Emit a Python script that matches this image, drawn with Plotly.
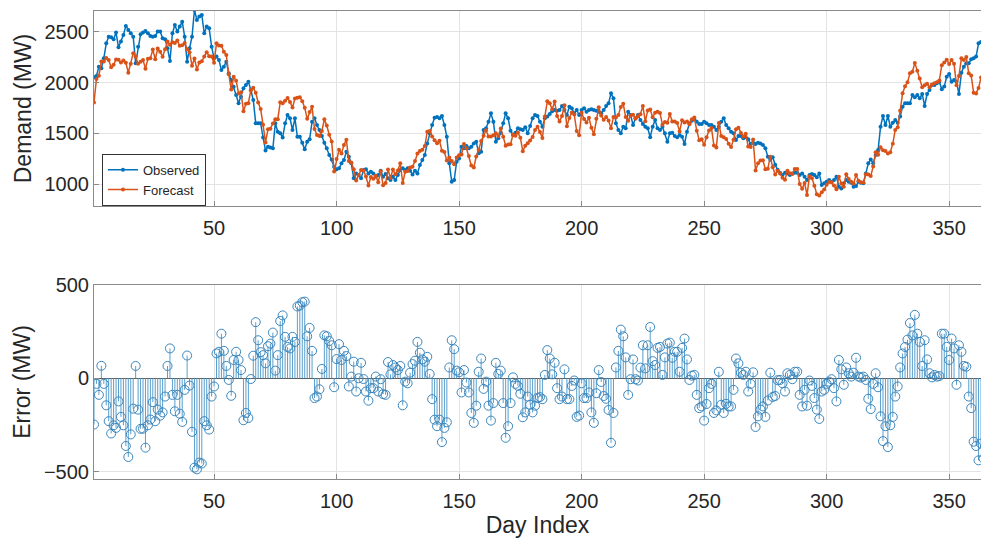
import plotly.graph_objects as go

days = list(range(1, 366))

observed = [
    2053, 2066, 2158, 2142, 2240, 2388, 2454, 2448, 2428, 2494,
    2349, 2405, 2471, 2560, 2520, 2487, 2454, 2191, 2355, 2477,
    2494, 2510, 2487, 2461, 2454, 2461, 2504, 2504, 2438, 2428,
    2339, 2214, 2487, 2569, 2504, 2553, 2602, 2454, 2207, 2339,
    2454, 2717, 2619, 2652, 2668, 2487, 2553, 2536, 2355, 2240,
    2257, 2224, 2125, 2158, 2207, 2092, 2026, 1960, 1878, 1796,
    1862, 1944, 1977, 2010, 1928, 1829, 1600, 1600, 1600, 1460,
    1330, 1368, 1360, 1352, 1599, 1516, 1500, 1460, 1599, 1681,
    1648, 1533, 1648, 1467, 1467, 1408, 1342, 1418, 1441, 1615,
    1648, 1582, 1533, 1474, 1408, 1352, 1286, 1243, 1171, 1145,
    1155, 1204, 1237, 1319, 1270, 1204, 1056, 1105, 1089, 1056,
    1138, 1145, 1105, 1122, 1105, 1072, 1089, 1132, 1072, 1099,
    1056, 1039, 1072, 1039, 1089, 1138, 1155, 1138, 1155, 1132,
    1095, 1132, 1105, 1188, 1237, 1286, 1401, 1500, 1582, 1655,
    1660, 1648, 1671, 1582, 1467, 1204, 1023, 1039, 1220, 1253,
    1368, 1352, 1375, 1352, 1368, 1401, 1418, 1303, 1319, 1533,
    1549, 1615, 1697, 1615, 1418, 1451, 1507, 1599, 1697, 1648,
    1526, 1484, 1507, 1549, 1540, 1533, 1560, 1500, 1572, 1648,
    1681, 1670, 1615, 1566, 1648, 1665, 1690, 1717, 1730, 1724,
    1730, 1770, 1730, 1681, 1763, 1747, 1697, 1730, 1681, 1730,
    1747, 1714, 1730, 1737, 1730, 1724, 1714, 1697, 1730, 1770,
    1796, 1895, 1846, 1599, 1533, 1500, 1566, 1549, 1714, 1681,
    1582, 1648, 1681, 1632, 1592, 1566, 1549, 1461, 1566, 1632,
    1549, 1533, 1566, 1500, 1418, 1500, 1507, 1474, 1461, 1484,
    1467, 1395, 1516, 1599, 1625, 1638, 1615, 1592, 1592, 1615,
    1599, 1582, 1582, 1566, 1533, 1566, 1615, 1648, 1582, 1549,
    1516, 1500, 1434, 1474, 1474, 1451, 1461, 1441, 1395, 1408,
    1395, 1408, 1401, 1385, 1352, 1270, 1240, 1265, 1190, 1140,
    1112, 1089, 1112, 1105, 1089, 1105, 1112, 1112, 1089, 1105,
    1072, 1039, 1089, 1099, 1089, 1066, 1105, 990, 1007, 1023,
    1039, 1023, 1039, 1072, 974, 957, 1007, 1039, 1023, 1013,
    974, 980, 1023, 1013, 1007, 1105, 1204, 1243, 1204, 1286,
    1336, 1566, 1671, 1582, 1671, 1566, 1605, 1632, 1605, 1665,
    1763, 1796, 1796, 1796, 1878, 1855, 1878, 1846, 1888, 1770,
    1888, 1928, 1977, 1977, 1994, 2010, 1934, 1961, 2059, 2086,
    2010, 2026, 2010, 1888, 2099, 2158, 2191, 2191, 2230, 2240,
    2257, 2388, 2400, 2410, 2420,
]

# forecast error (Forecast - Observed)
error = [
    -248, -30, -89, 67, -30, -145, -230, -296, -252, -266,
    -124, -207, -252, -363, -422, -301, -163, 66, -168, -271,
    -270, -372, -252, -221, -128, -230, -168, -200, -183, -98,
    66, 160, -89, -177, -89, -190, -234, -62, 122, -39,
    -287, -479, -488, -452, -457, -230, -252, -275, -98, -44,
    133, 142, 239, 147, 66, -9, -94, 98, 142, 98,
    44, -225, -186, -213, -4, 121, 301, 204, 140, 124,
    80, 172, 186, 245, 41, 124, 307, 337, 222, 168,
    160, 222, 195, 385, 390, 408, 411, 225, 270, 147,
    -106, -98, -59, 50, 230, 225, 200, 177, -48, 103,
    183, 98, 147, 119, -44, 9, 89, -71, 0, 83,
    -4, -71, -120, -53, -53, 9, -71, -5, -85, -89,
    87, 21, 71, 58, 44, 66, -145, -18, -27, 30,
    76, 94, 195, 137, 101, 89, 115, 23, -112, -222,
    -257, -222, -342, -266, -236, 58, 204, 156, 41, 32,
    -76, 44, -23, -76, -186, -239, -147, 35, 106, -57,
    -18, -147, -227, -133, 83, 23, 41, -133, -319, -257,
    -133, 5, -30, -41, -83, -209, -183, -98, -142, -183,
    -147, -106, -101, -112, 18, 151, 106, 21, 83, -53,
    -112, -98, 48, -112, -112, -41, -12, -207, -200, -27,
    -106, -106, -76, -183, -239, -80, 44, -20, -95, -110,
    -170, -346, -186, 58, 147, 261, 225, 112, -89, -5,
    101, -5, -12, 57, 177, 53, 177, 275, 92, 71,
    163, 168, 18, 112, 186, 191, 110, 142, 142, 35,
    163, 213, 101, -9, 14, 18, -89, -160, -151, -227,
    -138, -53, -30, -186, -172, 35, -142, -186, -137, -151,
    -151, -62, 106, 80, 30, 18, 35, -71, -30, 32,
    -261, -204, -168, -151, -207, -119, 30, -100, -95, -10,
    -9, -27, -71, 27, 18, -5, 35, 35, -89, -151,
    -62, -147, -12, -41, -106, -168, -218, -71, -62, -30,
    -18, -5, -53, -124, 98, 48, -35, 58, 27, 9,
    30, 110, 9, 4, 9, -9, -110, -165, -30, 27,
    -48, -204, -337, -257, -369, -252, -207, -98, -44, 58,
    133, 168, 207, 296, 230, 340, 239, 195, 66, 204,
    101, 27, 5, 18, 9, 12, 239, 239, 168, 98,
    213, 160, -35, 177, 142, 66, 62, -98, -160, -340,
    -363, -440, -350, -430, -400,
]

forecast = [o + e for o, e in zip(observed, error)]

x_ticks = [50, 100, 150, 200, 250, 300, 350]
top_y_ticks = [1000, 1500, 2000, 2500]
bottom_y_ticks = [-500, 0, 500]

BLUE = "#0072BD"
ORANGE = "#D95319"
STEM = "#5a9fcc"
FONT = "Liberation Sans"
TXT = "#262626"
GRID = "#e3e3e3"
AXL = "#8a8a8a"

fig = go.Figure()

fig.add_trace(go.Scatter(
    x=days, y=observed, name="Observed", mode="lines+markers",
    line=dict(color=BLUE, width=1.5), marker=dict(color=BLUE, size=4),
    xaxis="x", yaxis="y"))
fig.add_trace(go.Scatter(
    x=days, y=forecast, name="Forecast", mode="lines+markers",
    line=dict(color=ORANGE, width=1.5), marker=dict(color=ORANGE, size=4),
    xaxis="x", yaxis="y"))

# stems
sx, sy = [], []
for d, e in zip(days, error):
    sx += [d, d, None]
    sy += [0, e, None]
fig.add_trace(go.Scatter(
    x=sx, y=sy, mode="lines", line=dict(color=STEM, width=1),
    showlegend=False, hoverinfo="skip", xaxis="x2", yaxis="y2"))
fig.add_trace(go.Scatter(
    x=days, y=error, mode="markers", showlegend=False,
    marker=dict(symbol="circle-open", size=9, color="#3a86bd", line=dict(width=1)),
    xaxis="x2", yaxis="y2"))

common_x = dict(
    range=[1, 363], tickvals=x_ticks, showgrid=True, gridcolor=GRID,
    showline=True, linecolor=AXL, linewidth=1, mirror=True,
    ticks="inside", ticklen=5, tickcolor=AXL, zeroline=False,
    tickfont=dict(family=FONT, size=20, color=TXT), ticklabelstandoff=4,
)

fig.update_layout(
    width=981, height=548,
    margin=dict(l=94, r=0, t=11, b=69),
    paper_bgcolor="white", plot_bgcolor="white",
    font=dict(family=FONT, color=TXT),
    xaxis=dict(domain=[0, 1], anchor="y", **common_x),
    yaxis=dict(
        domain=[0.5833, 1.0], anchor="x", range=[783, 2707], tickvals=top_y_ticks,
        showgrid=True, gridcolor=GRID, showline=True, linecolor=AXL, linewidth=1,
        ticks="inside", ticklen=5, tickcolor=AXL, zeroline=False,
        tickfont=dict(family=FONT, size=20, color=TXT),
        title=dict(text="Demand (MW)", font=dict(family=FONT, size=23, color=TXT), standoff=6),
    ),
    xaxis2=dict(domain=[0, 1], anchor="y2",
                title=dict(text="Day Index", font=dict(family=FONT, size=23, color=TXT), standoff=4),
                **common_x),
    yaxis2=dict(
        domain=[0.0, 0.4145], anchor="x2", range=[-540, 500], tickvals=bottom_y_ticks,
        showgrid=True, gridcolor=GRID, showline=True, linecolor=AXL, linewidth=1,
        ticks="inside", ticklen=5, tickcolor=AXL,
        zeroline=True, zerolinecolor="#5a5a5a", zerolinewidth=1,
        tickfont=dict(family=FONT, size=20, color=TXT),
        title=dict(text="Error (MW)", font=dict(family=FONT, size=23, color=TXT), standoff=6),
    ),
    legend=dict(
        x=0.009, y=0.695, xanchor="left", yanchor="top",
        bgcolor="white", bordercolor="#333333", borderwidth=1,
        font=dict(family=FONT, size=13, color=TXT),
        tracegroupgap=0, itemwidth=30,
    ),
)

fig.write_html("out.html")
